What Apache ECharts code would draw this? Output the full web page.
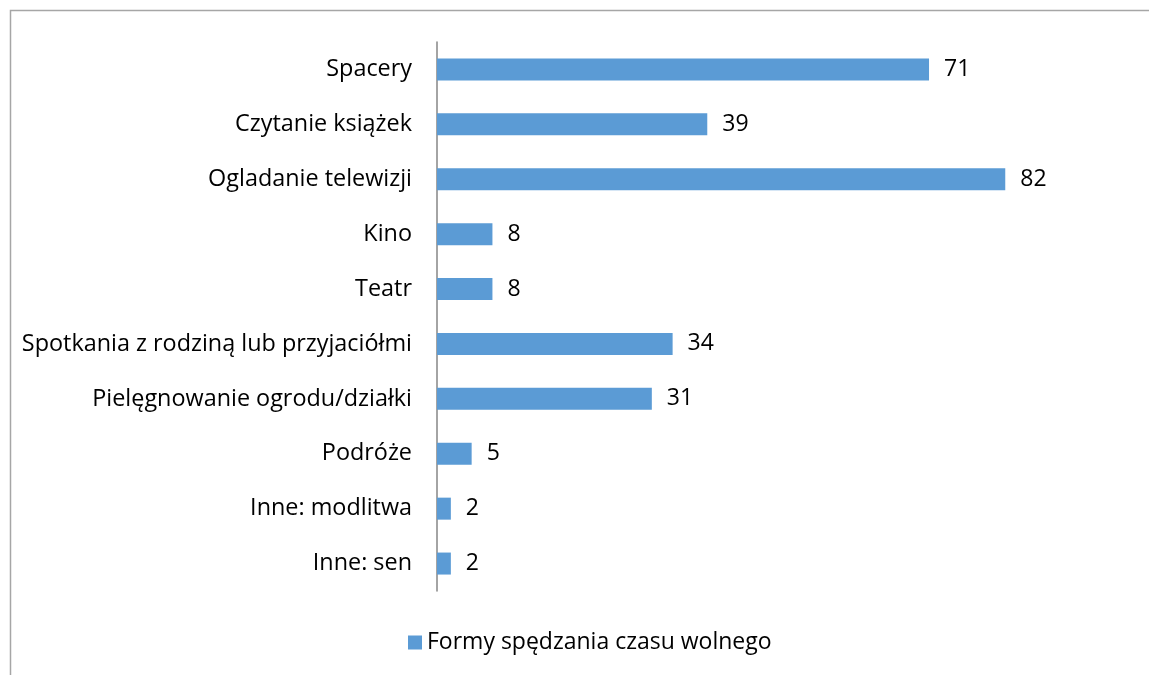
<!DOCTYPE html>
<html>
<head>
<meta charset="utf-8">
<script src="https://cdn.jsdelivr.net/npm/echarts@6/dist/echarts.min.js"></script>
<style>
  html, body { margin: 0; padding: 0; background: #fff; }
  #chart { width: 1149px; height: 675px; }
</style>
</head>
<body>
<div id="chart"></div>
<script>
// ===== 数据 =====
const categories = [
  'Spacery',
  'Czytanie książek',
  'Ogladanie telewizji',
  'Kino',
  'Teatr',
  'Spotkania z rodziną lub przyjaciółmi',
  'Pielęgnowanie ogrodu/działki',
  'Podróże',
  'Inne: modlitwa',
  'Inne: sen'
]
const values = [71, 39, 82, 8, 8, 34, 31, 5, 2, 2]
const seriesName = 'Formy spędzania czasu wolnego'

const FONT = '"Open Sans", sans-serif'
const BLUE = '#5B9BD5'

const chart = echarts.init(document.getElementById('chart'))

chart.setOption({
  animation: false,
  backgroundColor: '#fff',
  graphic: [{
    type: 'rect',
    shape: { x: 10.5, y: 10.5, width: 1200, height: 700 },
    style: { fill: 'none', stroke: '#a6a6a6', lineWidth: 1.5 },
    silent: true
  }],
  grid: {
    left: 437,
    top: 42,
    width: 623.7,
    height: 549
  },
  legend: {
    data: [seriesName],
    bottom: 16,
    left: 403,
    itemWidth: 14,
    itemHeight: 14,
    itemGap: 6,
    icon: 'rect',
    textStyle: { fontFamily: FONT, fontSize: 23, color: '#000' }
  },
  xAxis: {
    type: 'value',
    min: 0,
    max: 90,
    show: false
  },
  yAxis: {
    type: 'category',
    data: categories,
    inverse: true,
    axisLine: { show: true, lineStyle: { color: '#868686', width: 1.5 } },
    axisTick: { show: false },
    axisLabel: {
      margin: 25,
      fontFamily: FONT,
      fontSize: 23.4,
      color: '#000',
      padding: [3, 0, 0, 0]
    }
  },
  series: [{
    name: seriesName,
    type: 'bar',
    data: values,
    barWidth: 22,
    itemStyle: { color: BLUE },
    label: {
      show: true,
      position: 'right',
      distance: 15,
      fontFamily: FONT,
      fontSize: 23,
      color: '#000',
      padding: [3, 0, 0, 0]
    }
  }]
})
</script>
</body>
</html>
